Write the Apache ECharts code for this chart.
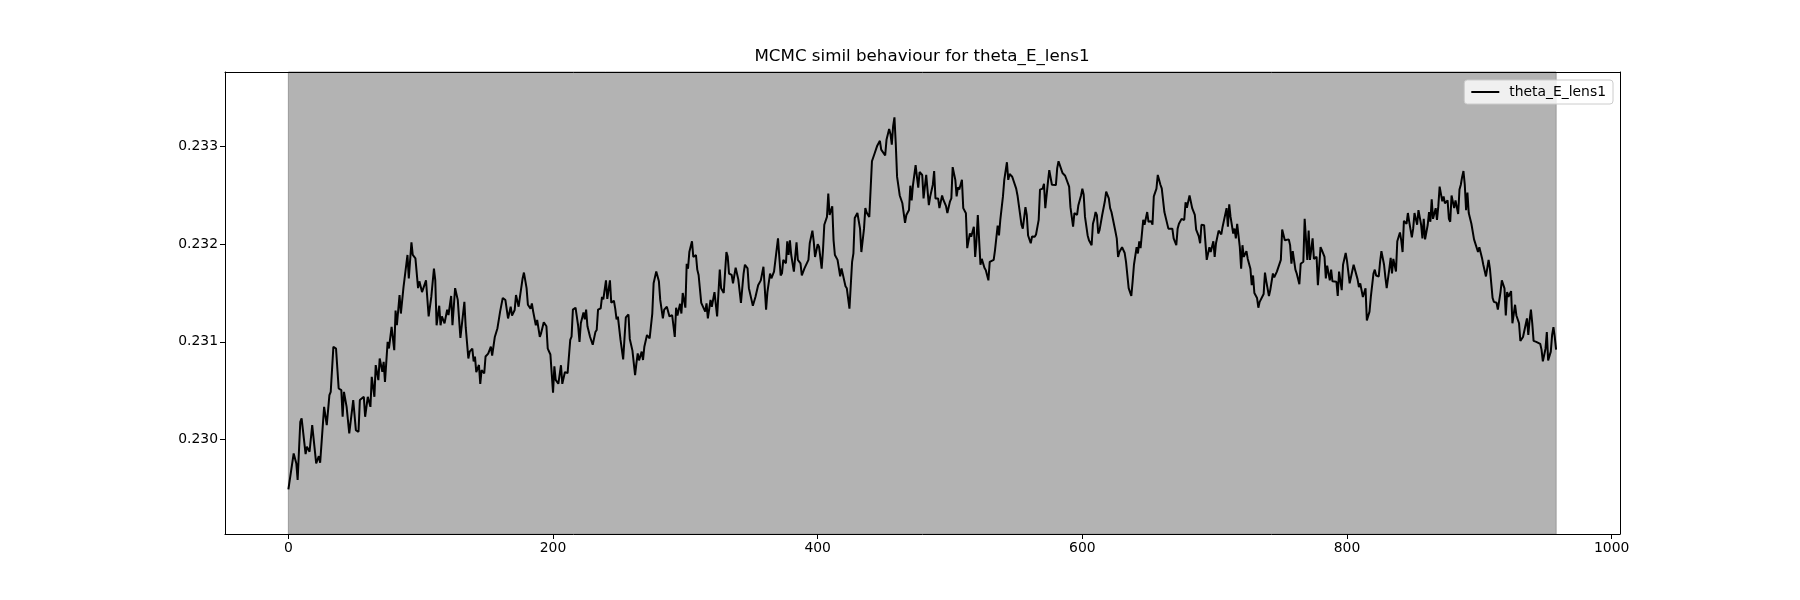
<!DOCTYPE html>
<html>
<head>
<meta charset="utf-8">
<title>MCMC simil behaviour for theta_E_lens1</title>
<script src="https://cdn.jsdelivr.net/npm/echarts@6/dist/echarts.min.js"></script>
<style>
  html, body { margin: 0; padding: 0; background: #fff; }
  #chart { width: 1800px; height: 600px; }
</style>
</head>
<body>
<div id="chart"></div>
<script>
const paramName = 'theta_E_lens1'
const chartTitle = 'MCMC simil behaviour for ' + paramName

// chain step index
const steps = [
  0, 4, 6, 7, 9, 10, 13, 14, 16, 18,
  19, 21, 23, 24, 27, 29, 31, 32, 34, 36,
  38, 40, 41, 42, 44, 46, 49, 51, 53, 54,
  57, 58, 60, 62, 63, 65, 66, 68, 69, 71,
  72, 73, 75, 76, 78, 80, 81, 82, 84, 85,
  87, 88, 90, 91, 93, 94, 95, 96, 98, 99,
  101, 104, 106, 108, 110, 111, 112, 114, 115, 116,
  118, 120, 121, 123, 124, 126, 128, 130, 133, 134,
  136, 137, 139, 140, 141, 142, 144, 145, 146, 148,
  149, 151, 153, 154, 156, 158, 160, 162, 164, 166,
  168, 169, 171, 172, 174, 175, 177, 178, 180, 181,
  183, 184, 185, 187, 188, 190, 191, 193, 194, 195,
  196, 198, 200, 201, 202, 204, 206, 207, 209, 211,
  213, 214, 215, 217, 219, 220, 221, 223, 224, 225,
  226, 228, 230, 232, 233, 234, 236, 237, 238, 240,
  241, 243, 244, 246, 247, 248, 249, 251, 253, 255,
  257, 258, 260, 261, 262, 263, 264, 265, 267, 268,
  269, 271, 273, 275, 276, 278, 280, 281, 283, 284,
  286, 288, 290, 292, 293, 294, 296, 297, 298, 300,
  301, 302, 303, 305, 306, 308, 309, 310, 312, 313,
  315, 316, 317, 319, 320, 322, 324, 326, 327, 329,
  331, 332, 333, 335, 336, 338, 339, 340, 342, 344,
  345, 347, 348, 350, 351, 353, 355, 357, 359, 361,
  362, 364, 365, 367, 368, 370, 372, 373, 374, 376,
  377, 378, 379, 380, 382, 383, 384, 385, 387, 388,
  390, 391, 393, 394, 396, 397, 398, 400, 401, 403,
  404, 405, 407, 408, 409, 411, 412, 413, 415, 417,
  418, 419, 421, 422, 424, 426, 427, 428, 430, 432,
  433, 435, 436, 437, 439, 441, 443, 444, 445, 447,
  448, 449, 451, 452, 454, 455, 456, 457, 458, 459,
  460, 462, 463, 464, 466, 467, 469, 470, 471, 472,
  474, 475, 476, 477, 479, 480, 482, 484, 485, 487,
  488, 489, 491, 492, 494, 495, 497, 498, 500, 501,
  502, 504, 505, 506, 507, 509, 510, 512, 513, 515,
  516, 518, 519, 520, 521, 523, 524, 526, 527, 529,
  530, 531, 533, 534, 536, 537, 538, 540, 541, 543,
  544, 545, 547, 548, 550, 551, 552, 554, 555, 557,
  558, 559, 561, 562, 564, 565, 567, 568, 570, 571,
  572, 574, 575, 577, 578, 580, 581, 582, 584, 585,
  587, 588, 590, 591, 593, 594, 596, 597, 599, 600,
  601, 602, 604, 605, 607, 608, 609, 610, 611, 612,
  613, 615, 616, 617, 618, 620, 621, 622, 623, 625,
  626, 627, 628, 630, 632, 633, 635, 637, 638, 639,
  641, 642, 643, 644, 646, 647, 649, 650, 652, 653,
  654, 656, 657, 659, 660, 662, 663, 665, 666, 668,
  669, 671, 672, 673, 675, 676, 677, 678, 679, 681,
  682, 683, 685, 686, 688, 689, 690, 692, 693, 694,
  696, 697, 699, 700, 701, 703, 705, 706, 707, 709,
  710, 711, 712, 714, 715, 716, 717, 719, 720, 721,
  722, 724, 725, 727, 728, 729, 730, 732, 733, 734,
  735, 737, 738, 739, 741, 742, 744, 745, 747, 748,
  750, 751, 753, 754, 756, 757, 758, 759, 761, 762,
  764, 765, 767, 768, 770, 771, 772, 774, 775, 777,
  778, 780, 781, 783, 784, 785, 787, 788, 789, 790,
  792, 793, 794, 796, 797, 799, 800, 802, 803, 805,
  806, 808, 809, 810, 812, 814, 815, 817, 818, 820,
  821, 822, 824, 825, 826, 828, 829, 830, 832, 833,
  834, 835, 837, 838, 840, 841, 842, 843, 845, 846,
  847, 849, 850, 851, 853, 854, 856, 857, 858, 859,
  861, 862, 863, 864, 865, 867, 868, 869, 870, 872,
  873, 874, 876, 877, 878, 879, 881, 882, 884, 885,
  886, 887, 888, 889, 890, 891, 892, 894, 896, 897,
  899, 900, 902, 903, 905, 907, 908, 910, 911, 913,
  914, 916, 917, 919, 920, 921, 922, 924, 925, 927,
  928, 930, 931, 933, 934, 936, 937, 938, 939, 940,
  941, 943, 944, 946, 947, 948, 950, 951, 952, 954,
  955, 956, 957, 958,
]

// theta_E_lens1 value at each step above
const theta = [
  0.229488, 0.229857, 0.229754, 0.229584, 0.230181, 0.230215, 0.229850, 0.229925, 0.229874, 0.230147,
  0.230130, 0.229754, 0.229829, 0.229761, 0.230334, 0.230147, 0.230454, 0.230488, 0.230949, 0.230932,
  0.230522, 0.230505, 0.230232, 0.230488, 0.230334, 0.230061, 0.230403, 0.230096, 0.230078, 0.230403,
  0.230437, 0.230232, 0.230437, 0.230334, 0.230642, 0.230437, 0.230761, 0.230608, 0.230829, 0.230693,
  0.230795, 0.230590, 0.231000, 0.230932, 0.231154, 0.230915, 0.231320, 0.231170, 0.231480, 0.231290,
  0.231560, 0.231580, 0.231890, 0.231650, 0.232020, 0.231890, 0.231910, 0.231855, 0.231550, 0.231620,
  0.231510, 0.231630, 0.231260, 0.231460, 0.231750, 0.231633, 0.231170, 0.231370, 0.231170, 0.231260,
  0.231190, 0.231330, 0.231275, 0.231470, 0.231170, 0.231550, 0.231430, 0.231040, 0.231410, 0.231150,
  0.230830, 0.230899, 0.230930, 0.230800, 0.230848, 0.230690, 0.230763, 0.230570, 0.230710, 0.230677,
  0.230850, 0.230880, 0.230950, 0.230860, 0.231050, 0.231140, 0.231310, 0.231450, 0.231428, 0.231240,
  0.231360, 0.231270, 0.231326, 0.231480, 0.231360, 0.231460, 0.231650, 0.231710, 0.231550, 0.231380,
  0.231340, 0.231394, 0.231310, 0.231170, 0.231224, 0.231050, 0.231090, 0.231200, 0.231207, 0.231160,
  0.230930, 0.230870, 0.230480, 0.230750, 0.230610, 0.230570, 0.230760, 0.230570, 0.230690, 0.230680,
  0.231020, 0.231053, 0.231330, 0.231350, 0.231160, 0.231000, 0.231190, 0.231300, 0.231230, 0.231330,
  0.231160, 0.231050, 0.230970, 0.231100, 0.231121, 0.231330, 0.231343, 0.231460, 0.231435, 0.231630,
  0.231440, 0.231630, 0.231400, 0.231422, 0.231340, 0.231230, 0.231258, 0.231020, 0.230820, 0.231250,
  0.231280, 0.231030, 0.230910, 0.230899, 0.230660, 0.230780, 0.230882, 0.230810, 0.230900, 0.230814,
  0.230950, 0.231070, 0.231036, 0.231290, 0.231600, 0.231720, 0.231620, 0.231430, 0.231240, 0.231330,
  0.231360, 0.231260, 0.231275, 0.231050, 0.231350, 0.231270, 0.231390, 0.231290, 0.231500, 0.231350,
  0.231800, 0.231750, 0.231920, 0.232030, 0.231870, 0.231890, 0.231740, 0.231685, 0.231400, 0.231388,
  0.231310, 0.231395, 0.231240, 0.231430, 0.231360, 0.231510, 0.231260, 0.231740, 0.231550, 0.231500,
  0.231920, 0.231873, 0.231700, 0.231685, 0.231600, 0.231760, 0.231770, 0.231640, 0.231400, 0.231700,
  0.231790, 0.231753, 0.231550, 0.231430, 0.231370, 0.231463, 0.231580, 0.231630, 0.231770, 0.231330,
  0.231510, 0.231700, 0.231651, 0.231720, 0.231736, 0.232060, 0.231680, 0.231702, 0.231840, 0.231805,
  0.232030, 0.231890, 0.232040, 0.231890, 0.231720, 0.231870, 0.232020, 0.231840, 0.231805, 0.231680,
  0.231753, 0.231740, 0.231840, 0.232010, 0.232140, 0.232030, 0.231870, 0.232000, 0.231975, 0.231750,
  0.231940, 0.232200, 0.232280, 0.232520, 0.232300, 0.232390, 0.232040, 0.231890, 0.231840, 0.231670,
  0.231753, 0.231770, 0.231570, 0.231549, 0.231340, 0.231820, 0.231907, 0.232270, 0.232320, 0.232160,
  0.231920, 0.232160, 0.232370, 0.232324, 0.232280, 0.232850, 0.232930, 0.232950, 0.233010, 0.233060,
  0.232970, 0.232966, 0.232910, 0.233070, 0.233180, 0.233130, 0.233020, 0.233210, 0.233300, 0.233030,
  0.232690, 0.232500, 0.232490, 0.232420, 0.232220, 0.232300, 0.232351, 0.232600, 0.232450, 0.232607,
  0.232810, 0.232690, 0.232580, 0.232740, 0.232710, 0.232470, 0.232710, 0.232400, 0.232488, 0.232610,
  0.232750, 0.232470, 0.232470, 0.232370, 0.232500, 0.232454, 0.232390, 0.232320, 0.232440, 0.232470,
  0.232790, 0.232660, 0.232490, 0.232583, 0.232560, 0.232660, 0.232370, 0.232317, 0.231960, 0.232110,
  0.232078, 0.232180, 0.231870, 0.232040, 0.232300, 0.231790, 0.231850, 0.231760, 0.231735, 0.231630,
  0.231820, 0.231804, 0.231840, 0.231940, 0.232190, 0.232090, 0.232250, 0.232490, 0.232660, 0.232840,
  0.232660, 0.232720, 0.232692, 0.232700, 0.232570, 0.232500, 0.232400, 0.232200, 0.232160, 0.232380,
  0.232300, 0.232090, 0.232010, 0.232080, 0.232077, 0.232100, 0.232250, 0.232560, 0.232570, 0.232620,
  0.232370, 0.232640, 0.232760, 0.232610, 0.232623, 0.232606, 0.232780, 0.232850, 0.232770, 0.232730,
  0.232702, 0.232720, 0.232590, 0.232380, 0.232180, 0.232320, 0.232300, 0.232400, 0.232500, 0.232570,
  0.232510, 0.232280, 0.232090, 0.232040, 0.231990, 0.232210, 0.232260, 0.232330, 0.232299, 0.232110,
  0.232145, 0.232300, 0.232282, 0.232440, 0.232540, 0.232470, 0.232370, 0.232330, 0.232340, 0.232130,
  0.232060, 0.231870, 0.231920, 0.231970, 0.231910, 0.231820, 0.231550, 0.231470, 0.231620, 0.231790,
  0.231970, 0.231906, 0.232030, 0.231960, 0.232250, 0.232200, 0.232330, 0.232230, 0.232237, 0.232200,
  0.232490, 0.232570, 0.232710, 0.232610, 0.232572, 0.232330, 0.232350, 0.232160, 0.232145, 0.232160,
  0.232060, 0.231990, 0.232160, 0.232210, 0.232260, 0.232280, 0.232248, 0.232430, 0.232374, 0.232500,
  0.232480, 0.232370, 0.232300, 0.232150, 0.232080, 0.232010, 0.232200, 0.232196, 0.232190, 0.231840,
  0.231970, 0.231920, 0.232030, 0.231870, 0.232010, 0.232140, 0.232101, 0.232180, 0.232196, 0.232370,
  0.232180, 0.232410, 0.232280, 0.232110, 0.232160, 0.232060, 0.232210, 0.231970, 0.231750, 0.231990,
  0.231870, 0.231930, 0.231850, 0.231750, 0.231580, 0.231680, 0.231500, 0.231450, 0.231350, 0.231410,
  0.231428, 0.231490, 0.231710, 0.231620, 0.231470, 0.231530, 0.231700, 0.231660, 0.231720, 0.231735,
  0.231840, 0.232150, 0.232040, 0.232026, 0.232050, 0.231991, 0.231800, 0.231930, 0.231740, 0.231700,
  0.231590, 0.231800, 0.231821, 0.232260, 0.231840, 0.232140, 0.231840, 0.232060, 0.231850, 0.231872,
  0.231580, 0.231970, 0.231940, 0.231870, 0.231650, 0.231780, 0.231630, 0.231740, 0.231620, 0.231600,
  0.231616, 0.231470, 0.231720, 0.231530, 0.231790, 0.231910, 0.231830, 0.231600, 0.231592, 0.231790,
  0.231770, 0.231640, 0.231560, 0.231599, 0.231460, 0.231550, 0.231220, 0.231310, 0.231460, 0.231700,
  0.231740, 0.231680, 0.231670, 0.231820, 0.231930, 0.231790, 0.231660, 0.231550, 0.231750, 0.231860,
  0.231700, 0.231850, 0.231720, 0.232030, 0.232120, 0.232040, 0.231920, 0.232240, 0.232210, 0.232320,
  0.232231, 0.232070, 0.232160, 0.232320, 0.232200, 0.232350, 0.232200, 0.232060, 0.232260, 0.232050,
  0.232200, 0.232330, 0.232230, 0.232460, 0.232260, 0.232370, 0.232250, 0.232390, 0.232590, 0.232440,
  0.232490, 0.232420, 0.232450, 0.232260, 0.232230, 0.232500, 0.232370, 0.232450, 0.232310, 0.232560,
  0.232610, 0.232690, 0.232750, 0.232610, 0.232350, 0.232530, 0.232320, 0.232210, 0.232050, 0.232030,
  0.231920, 0.231970, 0.231860, 0.231790, 0.231670, 0.231840, 0.231750, 0.231450, 0.231410, 0.231401,
  0.231330, 0.231510, 0.231630, 0.231548, 0.231270, 0.231510, 0.231462, 0.231520, 0.231190, 0.231380,
  0.231270, 0.231190, 0.231010, 0.231050, 0.231070, 0.231240, 0.231070, 0.231220, 0.231330, 0.231189,
  0.231010, 0.231000, 0.231001, 0.230980, 0.230920, 0.230800, 0.230930, 0.231100, 0.230810, 0.230900,
  0.231070, 0.231150, 0.231050, 0.230920,
]

const xTicks = [0, 200, 400, 600, 800, 1000]
const yTicks = [0.230, 0.231, 0.232, 0.233]
const shadedSteps = [0, 958]

let font = 'DejaVu Sans'
let chart = echarts.init(document.getElementById('chart'))

function frameAxis(pos, min, max) {
  // top / right spine only
  return {
    type: 'value',
    position: pos,
    min: min,
    max: max,
    axisLine: { show: true, onZero: false, lineStyle: { color: '#000', width: 1 } },
    axisTick: { show: false },
    axisLabel: { show: false },
    splitLine: { show: false },
    z: 10,
  }
}

let option = {
  animation: false,
  backgroundColor: '#fff',
  textStyle: { fontFamily: font },
  title: {
    text: chartTitle,
    left: 922,
    textAlign: 'center',
    top: 48,
    padding: 0,
    textStyle: { fontFamily: font, fontSize: 16.7, fontWeight: 'normal', color: '#000' },
  },
  legend: {
    data: [paramName],
    right: 187,
    top: 80,
    icon: 'rect',
    itemWidth: 28,
    itemHeight: 2,
    padding: [5, 7, 5, 7],
    backgroundColor: 'rgba(255,255,255,0.8)',
    borderColor: '#cccccc',
    borderWidth: 1,
    borderRadius: 3,
    textStyle: { fontFamily: font, fontSize: 13.9, color: '#000', padding: [0, 0, 0, 5] },
  },
  grid: {
    left: 225,
    right: 180,
    top: 72,
    bottom: 66,
    containLabel: false,
  },
  xAxis: [
    {
      type: 'value',
      min: -47.9,
      max: 1006.3,
      axisLine: { show: true, onZero: false, lineStyle: { color: '#000', width: 1 } },
      axisTick: { show: true, length: 5, customValues: xTicks, lineStyle: { color: '#000' } },
      axisLabel: {
        customValues: xTicks,
        color: '#000',
        fontSize: 13.9,
        fontFamily: font,
        margin: 7,
        formatter: (v) => String(v),
      },
      splitLine: { show: false },
      z: 10,
    },
    frameAxis('top', -47.9, 1006.3),
  ],
  yAxis: [
    {
      type: 'value',
      min: 0.229031,
      max: 0.233765,
      axisLine: { show: true, onZero: false, lineStyle: { color: '#000', width: 1 } },
      axisTick: { show: true, length: 5, customValues: yTicks, lineStyle: { color: '#000' } },
      axisLabel: {
        customValues: yTicks,
        color: '#000',
        fontSize: 13.9,
        fontFamily: font,
        margin: 7,
        formatter: (v) => v.toFixed(3),
      },
      splitLine: { show: false },
      z: 10,
    },
    frameAxis('right', 0.229031, 0.233765),
  ],
  series: [
    {
      name: paramName,
      type: 'line',
      xAxisIndex: 0,
      yAxisIndex: 0,
      data: steps.map((s, i) => [s, theta[i]]),
      showSymbol: false,
      symbol: 'none',
      lineStyle: { color: '#000', width: 2 },
      itemStyle: { color: '#000' },
      markArea: {
        silent: true,
        itemStyle: { color: '#b3b3b3', borderColor: '#999999', borderWidth: 1 },
        data: [[{ xAxis: shadedSteps[0] }, { xAxis: shadedSteps[1] }]],
      },
    },
  ],
}
chart.setOption(option)
</script>
</body>
</html>
